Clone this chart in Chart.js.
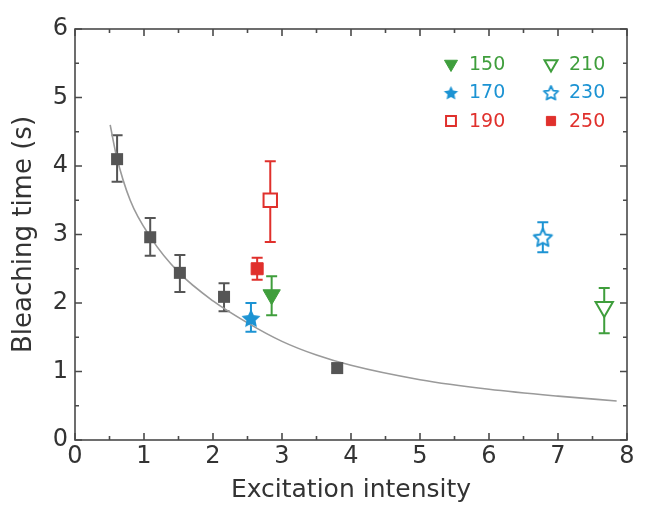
<!DOCTYPE html>
<html>
<head>
<meta charset="utf-8">
<script src="https://cdn.jsdelivr.net/npm/chart.js@4.4.1/dist/chart.umd.min.js"></script>
<style>
  html, body { margin: 0; padding: 0; background: #fff; }
  canvas { display: block; }
</style>
</head>
<body>
<canvas id="chart" width="650" height="508"></canvas>
<script>
// reference (gray) points
const refX = [0.61, 1.09, 1.52, 2.16, 3.8];
const refY = [4.1, 2.96, 2.44, 2.09, 1.05];
const refLo = [3.77, 2.69, 2.16, 1.88, 0.99];
const refHi = [4.45, 3.24, 2.70, 2.29, 1.11];

// fitted curve
const fitX = [0.51, 0.6, 0.8, 1.1, 1.5, 2.0, 2.5, 3.0, 3.5, 4.0, 5.0, 6.0, 7.0, 7.85];
const fitY = [4.6, 4.15, 3.5, 2.95, 2.45, 2.03, 1.71, 1.44, 1.24, 1.09, 0.88, 0.74, 0.64, 0.57];

// labelled groups
const groups = ["150", "170", "190", "210", "230", "250"];
const groupX = [2.85, 2.55, 2.83, 7.67, 6.78, 2.64];
const groupY = [2.12, 1.78, 3.5, 1.94, 2.96, 2.5];
const groupLo = [1.82, 1.58, 2.89, 1.56, 2.74, 2.34];
const groupHi = [2.39, 2.0, 4.07, 2.22, 3.18, 2.66];

const xTicks = [0, 1, 2, 3, 4, 5, 6, 7, 8];
const yTicks = [0, 1, 2, 3, 4, 5, 6];

const GRAY = "#555555";
const GREEN = "#3f9e3c";
const BLUE = "#1c93d3";
const RED = "#e0302c";
const FONT = "'DejaVu Sans', sans-serif";

function star(r, fill, stroke, lw) {
  let c = document.createElement("canvas");
  let s = Math.ceil(2 * r + lw + 2);
  c.width = c.height = s;
  let g = c.getContext("2d");
  g.beginPath();
  for (let k = 0; k < 10; k++) {
    let a = -Math.PI / 2 + k * Math.PI / 5;
    let rr = k % 2 ? r * 0.48 : r;
    let px = s / 2 + rr * Math.cos(a), py = s / 2 + 1 + rr * Math.sin(a);
    k ? g.lineTo(px, py) : g.moveTo(px, py);
  }
  g.closePath();
  g.fillStyle = fill;
  g.fill();
  if (lw) { g.lineWidth = lw; g.strokeStyle = stroke; g.lineJoin = "round"; g.stroke(); }
  return c;
}

// marker style for each group, same order as groups
const styles = [
  { pointStyle: "triangle", rotation: 180, radius: 10, legendRadius: 7.5, bg: GREEN, border: GREEN, bw: 1 },
  { pointStyle: star(10, BLUE, BLUE, 0), legend: star(7.5, BLUE, BLUE, 0), bg: BLUE, border: BLUE, bw: 0 },
  { pointStyle: "rect", rotation: 0, radius: 9.5, legendRadius: 7, bg: "#fff", border: RED, bw: 2 },
  { pointStyle: "triangle", rotation: 180, radius: 10, legendRadius: 7.5, bg: "#fff", border: GREEN, bw: 2 },
  { pointStyle: star(9.5, "#fff", BLUE, 2), legend: star(7.5, "#fff", BLUE, 1.8), bg: "#fff", border: BLUE, bw: 0 },
  { pointStyle: "rect", rotation: 0, radius: 8.5, legendRadius: 6.5, bg: RED, border: RED, bw: 1 },
];
const groupColors = [GREEN, BLUE, RED, GREEN, BLUE, RED];

let datasets = groups.map((g, i) => ({
  label: g,
  data: [{ x: groupX[i], y: groupY[i] }],
  lo: [groupLo[i]],
  hi: [groupHi[i]],
  barColor: groupColors[i],
  pointStyle: styles[i].pointStyle,
  rotation: styles[i].rotation || 0,
  pointRadius: styles[i].radius || 10,
  backgroundColor: styles[i].bg,
  borderColor: styles[i].border,
  borderWidth: styles[i].bw,
}));

datasets.push({
  label: "ref",
  data: refX.map((x, i) => ({ x: x, y: refY[i] })),
  lo: refLo,
  hi: refHi,
  barColor: GRAY,
  pointStyle: "rect",
  pointRadius: 8.5,
  backgroundColor: GRAY,
  borderColor: GRAY,
  borderWidth: 0,
});

datasets.push({
  label: "fit",
  type: "line",
  data: fitX.map((x, i) => ({ x: x, y: fitY[i] })),
  showLine: true,
  pointRadius: 0,
  borderColor: "#9a9a9a",
  borderWidth: 1.6,
  tension: 0.4,
  cubicInterpolationMode: "monotone",
  fill: false,
});

const errorBars = {
  id: "errorBars",
  beforeDatasetsDraw(chart) {
    let ctx = chart.ctx, ys = chart.scales.y, xs = chart.scales.x;
    ctx.save();
    chart.data.datasets.forEach(ds => {
      if (!ds.lo) return;
      ds.data.forEach((p, i) => {
        let x = xs.getPixelForValue(p.x);
        let y1 = ys.getPixelForValue(ds.lo[i]);
        let y2 = ys.getPixelForValue(ds.hi[i]);
        ctx.strokeStyle = ds.barColor;
        ctx.lineWidth = 2;
        ctx.beginPath();
        ctx.moveTo(x, y1); ctx.lineTo(x, y2);
        ctx.moveTo(x - 5.5, y1); ctx.lineTo(x + 5.5, y1);
        ctx.moveTo(x - 5.5, y2); ctx.lineTo(x + 5.5, y2);
        ctx.stroke();
      });
    });
    ctx.restore();
  }
};

const frame = {
  id: "frame",
  afterDraw(chart) {
    let ctx = chart.ctx, a = chart.chartArea, xs = chart.scales.x, ys = chart.scales.y;
    ctx.save();
    ctx.strokeStyle = "#4a4a4a";
    ctx.lineWidth = 1.6;
    ctx.strokeRect(a.left, a.top, a.right - a.left, a.bottom - a.top);
    ctx.beginPath();
    for (let v = xs.min; v <= xs.max; v += 0.5) {
      let x = xs.getPixelForValue(v), len = v % 1 ? 4 : 7;
      ctx.moveTo(x, a.bottom); ctx.lineTo(x, a.bottom - len);
      ctx.moveTo(x, a.top); ctx.lineTo(x, a.top + len);
    }
    for (let v = ys.min; v <= ys.max; v += 0.5) {
      let y = ys.getPixelForValue(v), len = v % 1 ? 4 : 7;
      ctx.moveTo(a.left, y); ctx.lineTo(a.left + len, y);
      ctx.moveTo(a.right, y); ctx.lineTo(a.right - len, y);
    }
    ctx.stroke();
    ctx.restore();
  }
};

const legendGrid = {
  id: "legendGrid",
  afterDraw(chart) {
    let ctx = chart.ctx;
    ctx.save();
    ctx.font = "19px " + FONT;
    ctx.textBaseline = "middle";
    groups.forEach((g, i) => {
      let col = Math.floor(i / 3), row = i % 3;
      let mx = 451 + col * 100, my = 64 + row * 28.5;
      let st = styles[i];
      ctx.fillStyle = st.bg;
      ctx.strokeStyle = st.border;
      ctx.lineWidth = st.bw;
      Chart.helpers.drawPoint(ctx, {
        pointStyle: st.legend || st.pointStyle,
        radius: st.legendRadius || 7,
        rotation: st.rotation || 0,
        borderWidth: st.bw,
      }, mx, my);
      ctx.fillStyle = groupColors[i];
      ctx.fillText(g, mx + 18, my + 1);
    });
    ctx.restore();
  }
};

new Chart(document.getElementById("chart"), {
  type: "scatter",
  data: { datasets: datasets },
  plugins: [errorBars, frame, legendGrid],
  options: {
    responsive: false,
    animation: false,
    devicePixelRatio: 1,
    layout: { padding: { top: 29, right: 23, left: 0, bottom: 0 } },
    plugins: { legend: { display: false }, tooltip: { enabled: false } },
    scales: {
      x: {
        type: "linear",
        min: 0,
        max: 8,
        afterBuildTicks: s => { s.ticks = xTicks.map(v => ({ value: v })); },
        afterFit: s => { s.height = 68; },
        grid: { display: false, drawTicks: false },
        border: { display: false },
        ticks: { color: "#333", font: { family: FONT, size: 24 }, padding: 2, maxRotation: 0 },
        title: {
          display: true,
          text: "Excitation intensity",
          color: "#333",
          font: { family: FONT, size: 25, lineHeight: 1.2 },
          padding: { top: 0, bottom: 3 },
        },
      },
      y: {
        type: "linear",
        min: 0,
        max: 6,
        afterBuildTicks: s => { s.ticks = yTicks.map(v => ({ value: v })); },
        afterFit: s => { s.width = 75; },
        grid: { display: false, drawTicks: false },
        border: { display: false },
        ticks: { color: "#333", font: { family: FONT, size: 24 }, padding: 7 },
        title: {
          display: true,
          text: "Bleaching time (s)",
          color: "#333",
          font: { family: FONT, size: 26, lineHeight: 1.2 },
          padding: { top: 9, bottom: 0 },
        },
      },
    },
  },
});
</script>
</body>
</html>
